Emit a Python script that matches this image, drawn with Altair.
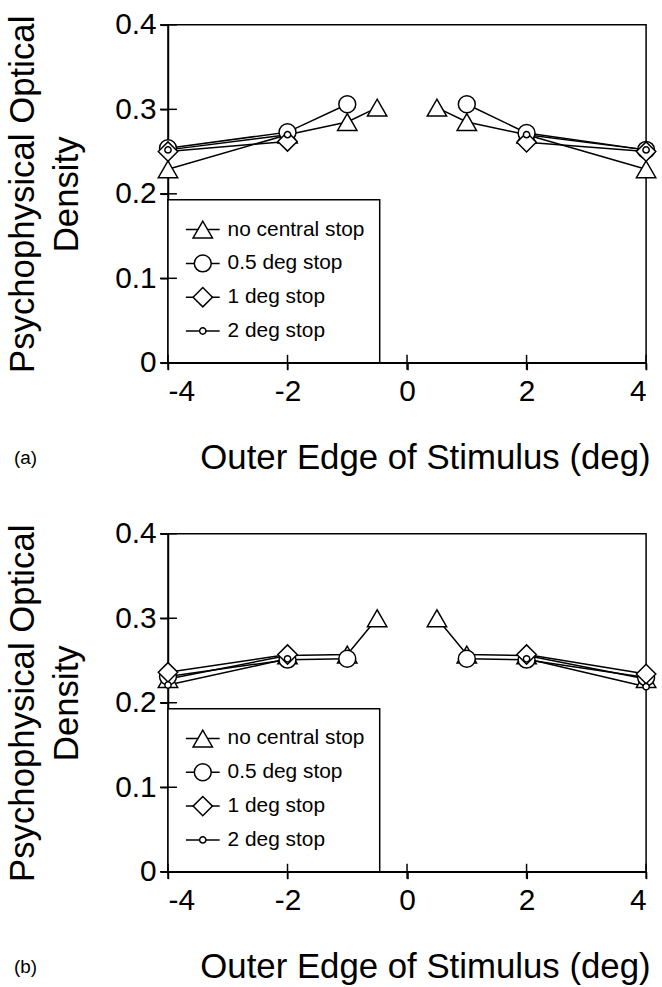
import altair as alt
import pandas as pd

# ---------------- data ----------------
SERIES = ["no central stop", "0.5 deg stop", "1 deg stop", "2 deg stop"]
SHAPES = ["triangle-up", "circle", "diamond", "circle"]
SIZES = [380, 290, 380, 40]

X_NONE = [-4, -2, -1, -0.5, 0.5, 1, 2, 4]
X_HALF = [-4, -2, -1, 1, 2, 4]
X_ONE = [-4, -2, 2, 4]
X_TWO = [-4, -2, 2, 4]

# panel (a)
A_NONE = [0.229, 0.270, 0.285, 0.302, 0.302, 0.285, 0.270, 0.229]
A_HALF = [0.254, 0.273, 0.306, 0.306, 0.272, 0.252]
A_ONE = [0.250, 0.262, 0.261, 0.250]
A_TWO = [0.252, 0.270, 0.270, 0.252]

# panel (b)
B_NONE = [0.228, 0.256, 0.257, 0.300, 0.300, 0.257, 0.256, 0.228]
B_HALF = [0.231, 0.251, 0.252, 0.252, 0.251, 0.230]
B_ONE = [0.236, 0.257, 0.257, 0.234]
B_TWO = [0.221, 0.252, 0.252, 0.219]

X_TICKS = [-4, -2, 0, 2, 4]
Y_TICKS = [0, 0.1, 0.2, 0.3, 0.4]

X_TITLE = "Outer Edge of Stimulus (deg)"
Y_TITLE = ["Psychophysical Optical", "Density"]

FONT = "Liberation Sans"
W, H = 481, 340

X_ALL = [X_NONE, X_HALF, X_ONE, X_TWO]


def panel_frame(vals):
    rows = []
    for s, xs, ys in zip(SERIES, X_ALL, vals):
        for x, y in zip(xs, ys):
            rows.append({"series": s, "x": x, "y": y, "side": "L" if x < 0 else "R"})
    return pd.DataFrame(rows)


xscale = alt.Scale(domain=[-4, 4], nice=False, zero=False)
yscale = alt.Scale(domain=[0, 0.4], nice=False, zero=False)
shape_scale = alt.Scale(domain=SERIES, range=SHAPES)
size_scale = alt.Scale(type="ordinal", domain=SERIES, range=SIZES)

AX_X = alt.Axis(values=X_TICKS, labelExpr="toString(datum.value)", title=X_TITLE,
                ticks=True, tickSize=7, tickWidth=1.5, tickColor="black",
                grid=False, labelPadding=7, titlePadding=34,
                titleX=W / 2 + 18, titleAlign="center")
AX_Y = alt.Axis(values=Y_TICKS, labelExpr="toString(datum.value)", title=Y_TITLE,
                ticks=True, tickSize=8, tickWidth=1.5, tickColor="black",
                grid=False, labelPadding=4, titlePadding=30)

LEG_TOP, LEG_STEP = 206, 34


def build(vals, tag):
    df = panel_frame(vals)
    X = alt.X("x:Q", scale=xscale, axis=AX_X)
    Y = alt.Y("y:Q", scale=yscale, axis=AX_Y)
    base = alt.Chart(df)

    layers = []
    # legend box (drawn first, sits below the data, which is above 0.2)
    layers.append(alt.Chart(pd.DataFrame({"k": [0]})).mark_rect(
        fill="white", stroke="black", strokeWidth=1.5).encode(
        x=alt.value(0), x2=alt.value(213), y=alt.value(176), y2=alt.value(H)))

    layers.append(base.mark_line(color="black", strokeWidth=1.5).encode(
        x=X, y=Y, detail=["series:N", "side:N"], order="x:Q"))
    layers.append(base.mark_point(filled=True, fill="white", stroke="black",
                                  strokeWidth=1.5, opacity=1).encode(
        x=X, y=Y,
        shape=alt.Shape("series:N", scale=shape_scale, legend=None),
        size=alt.Size("series:N", scale=size_scale, legend=None)))

    # inner halves of the crossing tick marks
    layers.append(alt.Chart(pd.DataFrame({"y": Y_TICKS})).mark_rule(
        color="black", strokeWidth=1.5).encode(
        y=Y, x=alt.value(-8), x2=alt.value(9)))
    layers.append(alt.Chart(pd.DataFrame({"x": X_TICKS})).mark_rule(
        color="black", strokeWidth=1.5).encode(
        x=X, y=alt.value(H - 8), y2=alt.value(H + 7)))

    # legend entries
    for i, s in enumerate(SERIES):
        yp = LEG_TOP + LEG_STEP * i
        one = alt.Chart(pd.DataFrame({"series": [s]}))
        layers.append(one.mark_rule(color="black", strokeWidth=1.5).encode(
            x=alt.value(18), x2=alt.value(52), y=alt.value(yp)))
        layers.append(one.mark_point(filled=True, fill="white", stroke="black",
                                     strokeWidth=1.5, opacity=1,
                                     shape=SHAPES[i], size=SIZES[i]).encode(
            x=alt.value(35), y=alt.value(yp)))
        layers.append(one.mark_text(align="left", baseline="middle", fontSize=21,
                                    font=FONT, color="black").encode(
            x=alt.value(60), y=alt.value(yp), text="series:N"))

    layers.append(alt.Chart(pd.DataFrame({"t": [tag]})).mark_text(
        align="left", baseline="middle", fontSize=19, font=FONT, color="black").encode(
        x=alt.value(-155), y=alt.value(436), text="t:N"))

    return alt.layer(*layers).properties(width=W, height=H)


chart = alt.vconcat(
    build([A_NONE, A_HALF, A_ONE, A_TWO], "(a)"),
    build([B_NONE, B_HALF, B_ONE, B_TWO], "(b)"),
    spacing=42,
).configure_view(stroke="black", strokeWidth=1.5).configure_axis(
    labelFont=FONT, labelFontSize=30, labelColor="black",
    titleFont=FONT, titleFontSize=35, titleFontWeight="normal", titleColor="black",
    titleLineHeight=45, domainColor="black", domainWidth=1.5,
).properties(padding={"left": 4, "top": 6, "right": 2, "bottom": 2}, background="white")

chart.save("out.html", embed_options={"renderer": "svg", "actions": False})
